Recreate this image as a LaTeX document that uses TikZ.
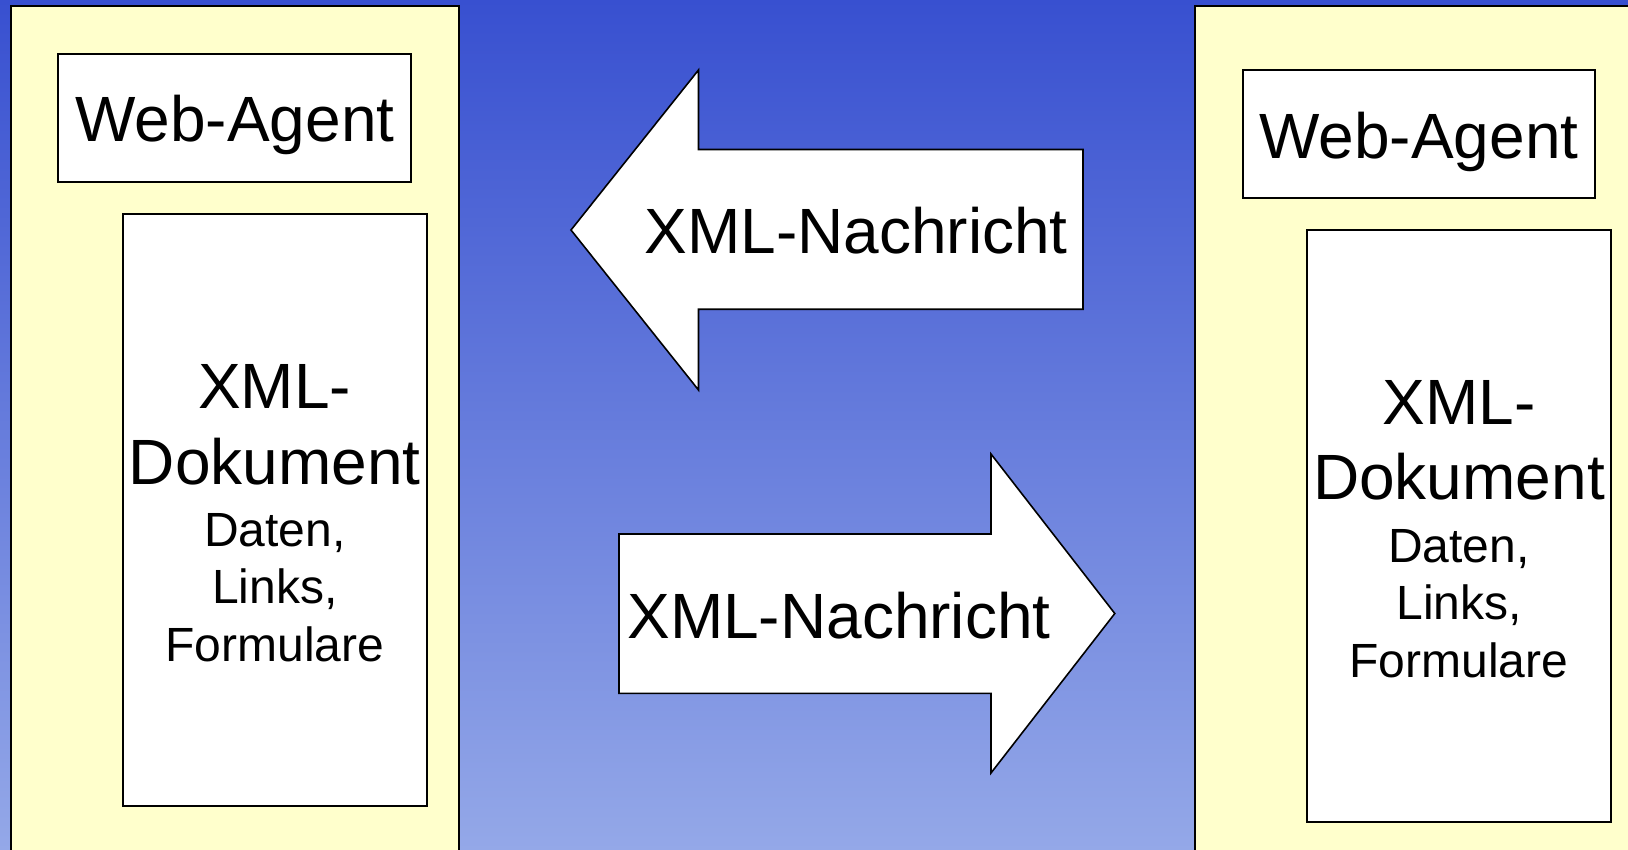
\documentclass[tikz,border=0pt]{standalone}
\usepackage{fontspec}
\setmainfont{Liberation Sans}
\definecolor{bgtop}{RGB}{56,80,208}
\definecolor{bgbot}{RGB}{148,168,232}
\definecolor{panelfill}{RGB}{255,255,204}
\tikzset{
  panelbox/.style={draw=black, fill=panelfill, line width=2pt},
  whitebox/.style={draw=black, fill=white, line width=2pt, inner sep=0pt},
  blockarrow/.style={draw=black, fill=white, line width=1.6pt, line join=miter},
  bigtxt/.style={font=\fontsize{64}{76}\selectfont, inner sep=0pt, anchor=base},
  smalltxt/.style={font=\fontsize{48}{57}\selectfont, inner sep=0pt, anchor=base}
}
\begin{document}
\begin{tikzpicture}[x=1pt,y=-1pt]
\useasboundingbox (0,0) rectangle (1628,850);
\clip (0,0) rectangle (1628,850);
\shade[top color=bgtop, bottom color=bgbot] (0,0) rectangle (1628,850);

% panels
\draw[panelbox] (10.7,5.7) rectangle (459,880);
\draw[panelbox] (1195,5.7) rectangle (1660,880);

% left side
\node[whitebox, minimum width=353.2pt, minimum height=128.3pt] (wa1) at (234.8,117.7) {};
\node[bigtxt] (wa1t) at (235,141.7) {Web-Agent};
\node[whitebox, minimum width=304.5pt, minimum height=592.3pt] (doc1) at (274.75,509.85) {};
\node[bigtxt] (doc1a) at (274.75,408.3) {XML-};
\node[bigtxt] (doc1b) at (274.75,484) {Dokument};
\node[smalltxt] (doc1c) at (274.75,546.7) {Daten,};
\node[smalltxt] (doc1d) at (274.75,603.5) {Links,};
\node[smalltxt] (doc1e) at (274.75,661.7) {Formulare};

% right side
\node[whitebox, minimum width=352.5pt, minimum height=128.3pt] (wa2) at (1419,133.8) {};
\node[bigtxt] (wa2t) at (1419,158.3) {Web-Agent};
\node[whitebox, minimum width=304.3pt, minimum height=592.3pt] (doc2) at (1458.85,525.85) {};
\node[bigtxt] (doc2a) at (1459,424) {XML-};
\node[bigtxt] (doc2b) at (1459,499.6) {Dokument};
\node[smalltxt] (doc2c) at (1459,562.3) {Daten,};
\node[smalltxt] (doc2d) at (1459,619.1) {Links,};
\node[smalltxt] (doc2e) at (1459,677.3) {Formulare};

% arrows
\draw[blockarrow] (571,230) -- (698.5,70) -- (698.5,149.5) -- (1083,149.5)
  -- (1083,309.3) -- (698.5,309.3) -- (698.5,390) -- cycle;
\node[bigtxt] (msg1) at (856.2,253.3) {XML-Nachricht};

\draw[blockarrow] (619,534) -- (991,534) -- (991,454) -- (1114.8,613.5)
  -- (991,773) -- (991,693.3) -- (619,693.3) -- cycle;
\node[bigtxt] (msg2) at (839,638.3) {XML-Nachricht};
\end{tikzpicture}
\end{document}
